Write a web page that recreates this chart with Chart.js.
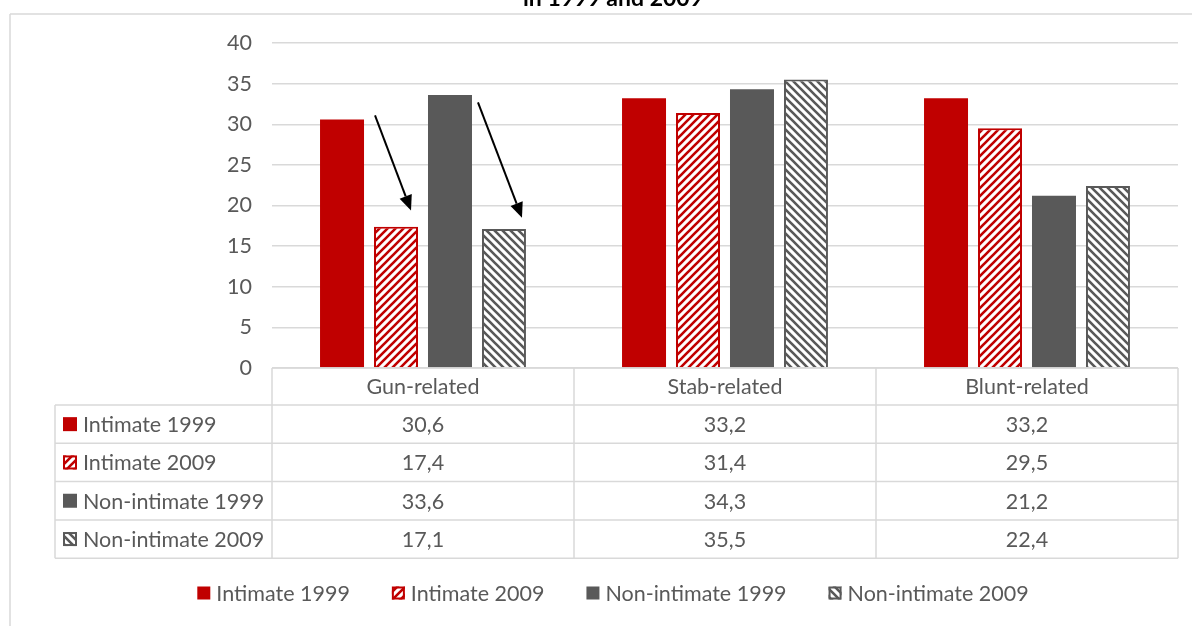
<!DOCTYPE html>
<html>
<head>
<meta charset="utf-8">
<script src="https://cdn.jsdelivr.net/npm/chart.js@4.4.1/dist/chart.umd.min.js"></script>
<style>
  body { margin: 0; background: #fff; }
  #wrap { width: 1192px; height: 626px; }
</style>
</head>
<body>
<div id="wrap"><canvas id="myChart" width="1192" height="626"></canvas></div>
<script>
const categories = ["Gun-related", "Stab-related", "Blunt-related"];
const seriesNames = ["Intimate 1999", "Intimate 2009", "Non-intimate 1999", "Non-intimate 2009"];
const intimate1999 = [30.6, 33.2, 33.2];
const intimate2009 = [17.4, 31.4, 29.5];
const nonIntimate1999 = [33.6, 34.3, 21.2];
const nonIntimate2009 = [17.1, 35.5, 22.4];
const yMax = 40;
const yStep = 5;
// arrows on the gun-related bars: dataset, from value, to value
const arrowSeries = [1, 3];
const arrowFrom = [31.1, 32.7];
const arrowTo = [19.4, 18.5];

const RED = "#C00000";
const GREY = "#595959";
const LINE = "#D9D9D9";
const FONT = "Lato, 'Liberation Sans', sans-serif";
const FSIZE = 21.5;

const ctx = document.getElementById("myChart");

const makeHatch = (color, rising) => {
  const c = document.createElement("canvas");
  c.width = 8;
  c.height = 8;
  const g = c.getContext("2d");
  g.fillStyle = "#fff";
  g.fillRect(0, 0, 8, 8);
  g.strokeStyle = color;
  g.lineWidth = 2.6;
  g.beginPath();
  if (rising) {
    g.moveTo(-2, 10); g.lineTo(10, -2);
    g.moveTo(-2, 2); g.lineTo(2, -2);
    g.moveTo(6, 10); g.lineTo(10, 6);
  } else {
    g.moveTo(-2, -2); g.lineTo(10, 10);
    g.moveTo(-2, 6); g.lineTo(2, 10);
    g.moveTo(6, -2); g.lineTo(10, 2);
  }
  g.stroke();
  return ctx.getContext("2d").createPattern(c, "repeat");
};

const redHatch = makeHatch(RED, true);
const greyHatch = makeHatch(GREY, false);

const fills = [RED, redHatch, GREY, greyHatch];
const borders = [RED, RED, GREY, GREY];
const values = [intimate1999, intimate2009, nonIntimate1999, nonIntimate2009];

const fmt = (v) => v.toFixed(1).replace(".", ",");

const drawIcon = (g, i, x, y, s) => {
  g.save();
  g.fillStyle = fills[i];
  g.fillRect(x, y, s, s);
  if (i === 1 || i === 3) {
    g.strokeStyle = borders[i];
    g.lineWidth = 2;
    g.strokeRect(x + 1, y + 1, s - 2, s - 2);
  }
  g.restore();
};

const tablePlugin = {
  id: "tablePlugin",
  afterDraw(chart) {
    const g = chart.ctx;
    const area = chart.chartArea;
    const xs = chart.scales.x;
    g.save();

    // outer frame
    g.strokeStyle = LINE;
    g.lineWidth = 1.5;
    g.beginPath();
    g.moveTo(10, 14); g.lineTo(1192, 14);
    g.moveTo(10, 14); g.lineTo(10, 626);
    g.stroke();

    // title (cut off at top)
    g.fillStyle = "#000";
    g.font = "bold 23px " + FONT;
    g.textAlign = "center";
    g.textBaseline = "alphabetic";
    g.fillText("in 1999 and 2009", 613, 6);

    // data table
    const top = area.bottom;
    const headH = 37;
    const rowH = 38.3;
    const tLeft = 55;
    const bottom = top + headH + rowH * seriesNames.length;
    const colW = (area.right - area.left) / categories.length;

    g.strokeStyle = LINE;
    g.lineWidth = 1.5;
    g.beginPath();
    g.moveTo(area.left, top); g.lineTo(area.right, top);
    for (let r = 0; r <= seriesNames.length; r++) {
      const y = top + headH + r * rowH;
      g.moveTo(tLeft, y); g.lineTo(area.right, y);
    }
    g.moveTo(tLeft, top + headH); g.lineTo(tLeft, bottom);
    for (let c = 0; c <= categories.length; c++) {
      const x = area.left + c * colW;
      g.moveTo(x, top); g.lineTo(x, bottom);
    }
    g.stroke();

    g.fillStyle = GREY;
    g.font = FSIZE + "px " + FONT;
    g.textBaseline = "middle";
    g.textAlign = "center";
    for (let c = 0; c < categories.length; c++) {
      g.fillText(categories[c], xs.getPixelForValue(c), top + headH / 2 + 1);
    }
    for (let r = 0; r < seriesNames.length; r++) {
      const yc = top + headH + r * rowH + rowH / 2;
      drawIcon(g, r, tLeft + 8, yc - 7, 14);
      g.fillStyle = GREY;
      g.textAlign = "left";
      g.fillText(seriesNames[r], tLeft + 28, yc + 1);
      g.textAlign = "center";
      for (let c = 0; c < categories.length; c++) {
        g.fillText(fmt(values[r][c]), xs.getPixelForValue(c), yc + 1);
      }
    }

    // legend
    const ly = 593;
    const gap = 42;
    const icon = 13;
    let total = 0;
    const widths = seriesNames.map((n) => g.measureText(n).width);
    widths.forEach((w, i) => { total += icon + 6 + w + (i < widths.length - 1 ? gap : 0); });
    let lx = 613 - total / 2;
    for (let i = 0; i < seriesNames.length; i++) {
      drawIcon(g, i, lx, ly - icon / 2, icon);
      g.fillStyle = GREY;
      g.textAlign = "left";
      g.fillText(seriesNames[i], lx + icon + 6, ly + 1);
      lx += icon + 6 + widths[i] + gap;
    }

    // arrows
    const ys = chart.scales.y;
    g.strokeStyle = "#000";
    g.fillStyle = "#000";
    g.lineWidth = 2;
    for (let a = 0; a < arrowSeries.length; a++) {
      const bar = chart.getDatasetMeta(arrowSeries[a]).data[0];
      const x0 = bar.x - bar.width / 2 + (a === 0 ? 1 : -4);
      const x1 = bar.x + (a === 0 ? 15 : 18);
      const y0 = ys.getPixelForValue(arrowFrom[a]);
      const y1 = ys.getPixelForValue(arrowTo[a]);
      const ang = Math.atan2(y1 - y0, x1 - x0);
      const hl = 15;
      const hw = 6.5;
      const bx = x1 - hl * Math.cos(ang);
      const by = y1 - hl * Math.sin(ang);
      g.beginPath();
      g.moveTo(x0, y0);
      g.lineTo(bx, by);
      g.stroke();
      g.beginPath();
      g.moveTo(x1, y1);
      g.lineTo(bx + hw * Math.sin(ang), by - hw * Math.cos(ang));
      g.lineTo(bx - hw * Math.sin(ang), by + hw * Math.cos(ang));
      g.closePath();
      g.fill();
    }
    g.restore();
  },
};

const chart = new Chart(ctx, {
  type: "bar",
  data: {
    labels: categories,
    datasets: seriesNames.map((name, i) => ({
      label: name,
      data: values[i],
      backgroundColor: fills[i],
      borderColor: borders[i],
      borderWidth: i === 1 || i === 3 ? 2 : 0,
      categoryPercentage: 0.715,
      barPercentage: 0.815,
    })),
  },
  options: {
    responsive: false,
    animation: false,
    layout: {
      padding: { top: 43, left: 0, right: 14, bottom: 258 },
    },
    plugins: {
      legend: { display: false },
      tooltip: { enabled: false },
    },
    scales: {
      x: {
        display: false,
      },
      y: {
        min: 0,
        max: yMax,
        ticks: {
          stepSize: yStep,
          padding: 20,
          color: GREY,
          font: { family: FONT, size: FSIZE },
        },
        grid: { color: LINE, lineWidth: 1.5, drawTicks: false },
        border: { display: false },
        afterFit: (scale) => {
          scale.width = 272;
        },
      },
    },
  },
  plugins: [tablePlugin],
});
</script>
</body>
</html>
